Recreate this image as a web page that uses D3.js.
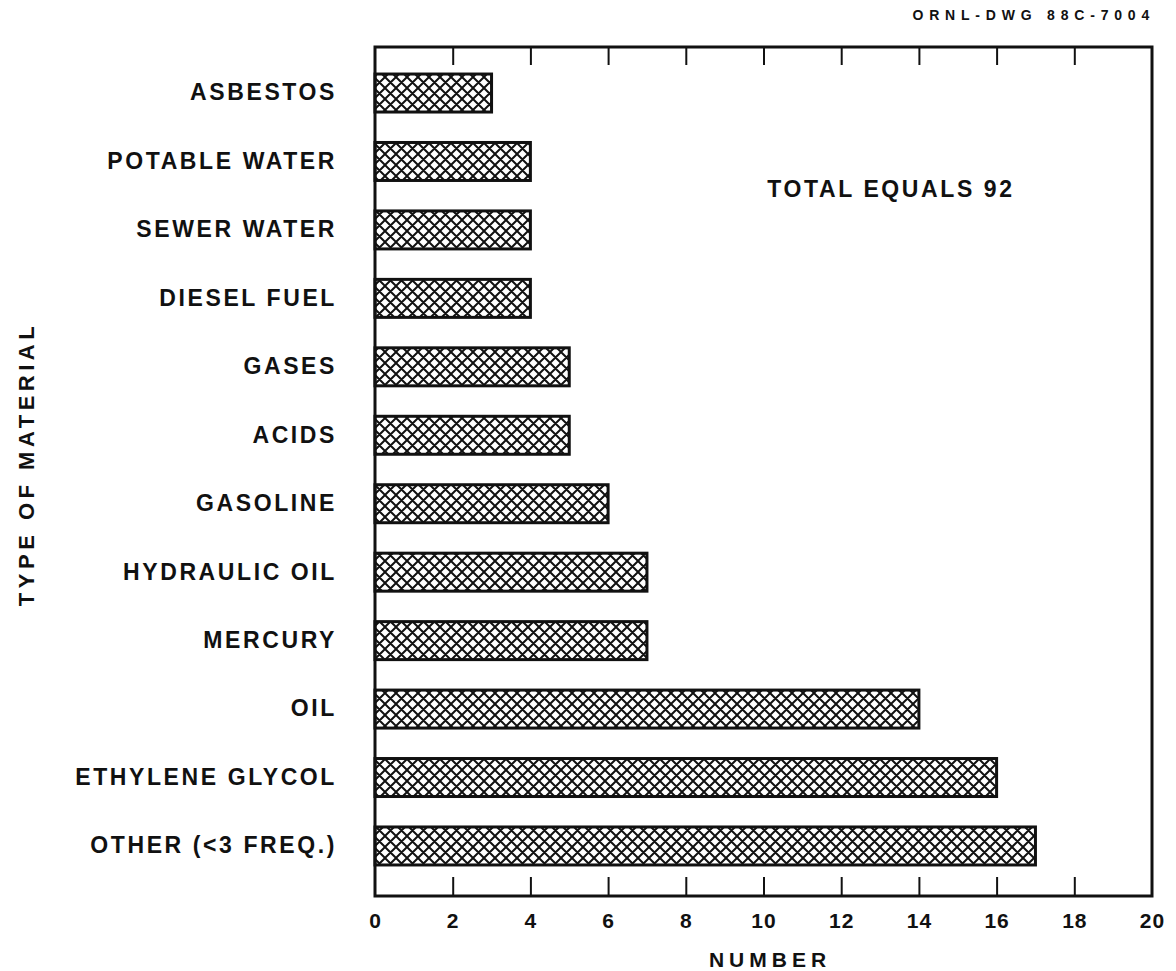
<!DOCTYPE html>
<html><head><meta charset="utf-8">
<script src="https://cdn.jsdelivr.net/npm/d3@7"></script>
<style>body{margin:0;background:#fff}svg{display:block}text{font-family:"Liberation Sans",Arial,sans-serif;font-weight:bold;fill:#111}</style>
</head><body><svg id="c" width="1176" height="971"></svg>
<script>
const categories = ["ASBESTOS","POTABLE WATER","SEWER WATER","DIESEL FUEL","GASES","ACIDS","GASOLINE","HYDRAULIC OIL","MERCURY","OIL","ETHYLENE GLYCOL","OTHER (<3 FREQ.)"];
const values = [3,4,4,4,5,5,6,7,7,14,16,17];
const xTicks = [0,2,4,6,8,10,12,14,16,18,20];
const title = "ORNL-DWG 88C-7004";
const note = "TOTAL EQUALS 92";
const xTitle = "NUMBER";
const yTitle = "TYPE OF MATERIAL";

const svg = d3.select("#c");
const L = 375, R = 1152, T = 47, B = 896;
const FF = "Liberation Sans, Arial, sans-serif";
const x = d3.scaleLinear().domain([0,20]).range([L,R]);
const y = d3.scaleBand().domain(categories).range([53.5,885.5]).paddingInner(0.445).paddingOuter(0.3);

const defs = svg.append("defs");
const P = 11;
const pat = defs.append("pattern").attr("id","hatch").attr("patternUnits","userSpaceOnUse").attr("width",P).attr("height",P);
pat.append("rect").attr("width",P).attr("height",P).attr("fill","#fff");
pat.append("path").attr("d",`M0,0L${P},${P}M0,${P}L${P},0M${-P/2},${P/2}L${P/2},${-P/2}M${P/2},${P*1.5}L${P*1.5},${P/2}M${-P/2},${P/2}L${P/2},${P*1.5}M${P/2},${-P/2}L${P*1.5},${P/2}`).attr("stroke","#111").attr("stroke-width",2);

// bars
svg.append("g").selectAll("rect").data(categories).join("rect")
  .attr("x", x(0)).attr("y", d=>y(d)).attr("width", (d,i)=>x(values[i])-x(0)).attr("height", y.bandwidth())
  .attr("fill","url(#hatch)").attr("stroke","#111").attr("stroke-width",3);

// frame
svg.append("rect").attr("x",L).attr("y",T).attr("width",R-L).attr("height",B-T)
  .attr("fill","none").attr("stroke","#111").attr("stroke-width",3);

// bottom axis: inward ticks, labels below
const axB = d3.axisBottom(x).tickValues(xTicks).tickSize(0).tickPadding(0).tickFormat(d3.format("d"));
const gB = svg.append("g").attr("transform",`translate(0,${B})`).call(axB);
gB.select(".domain").remove();
gB.selectAll("text").attr("dy",null).attr("y",32).attr("font-size",21).attr("letter-spacing","1px").attr("font-family",FF).attr("font-weight","bold").attr("fill","#111");
gB.selectAll(".tick").filter(d=>d>0 && d<20).append("line").attr("y1",0).attr("y2",-19).attr("stroke","#111").attr("stroke-width",2);
// top inward ticks
const gT = svg.append("g").attr("transform",`translate(0,${T})`).call(d3.axisTop(x).tickValues(xTicks.filter(d=>d>0&&d<20)).tickSize(0).tickFormat(""));
gT.select(".domain").remove();
gT.selectAll(".tick").append("line").attr("y1",0).attr("y2",18).attr("stroke","#111").attr("stroke-width",2);

// y labels
const gL = svg.append("g").attr("transform",`translate(${L},0)`).call(d3.axisLeft(y).tickSize(0).tickPadding(38));
gL.select(".domain").remove();
gL.selectAll("text").attr("font-size",23).attr("letter-spacing","2.6px").attr("font-family",FF).attr("font-weight","bold").attr("fill","#111");

// titles
svg.append("text").attr("x",1155).attr("y",20).attr("text-anchor","end").attr("font-size",14).attr("letter-spacing","5.8px").text(title);
svg.append("text").attr("x",891).attr("y",197).attr("text-anchor","middle").attr("font-size",23).attr("letter-spacing","2.6px").text(note);
svg.append("text").attr("x",770).attr("y",967).attr("text-anchor","middle").attr("font-size",21).attr("letter-spacing","5px").text(xTitle);
svg.append("text").attr("transform","translate(34,464) rotate(-90)").attr("text-anchor","middle").attr("font-size",22).attr("letter-spacing","4.5px").text(yTitle);
</script></body></html>
